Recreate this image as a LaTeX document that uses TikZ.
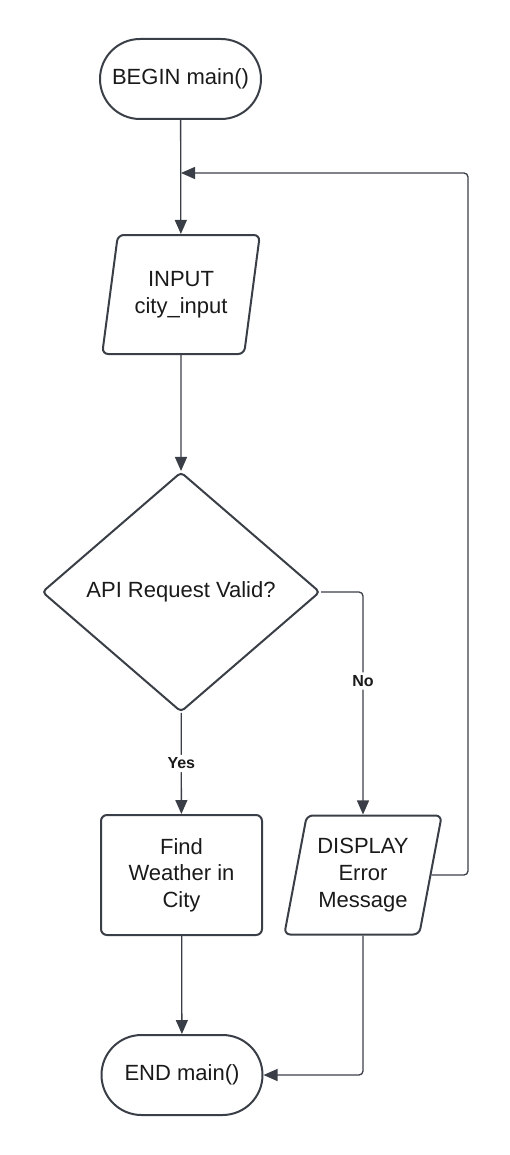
\documentclass[tikz,border=0pt]{standalone}
\usepackage{fontspec}
\setmainfont{Liberation Sans}
\usetikzlibrary{shapes.geometric,arrows.meta}
\definecolor{ln}{HTML}{3A3F47}
\definecolor{tx}{HTML}{1A1A1A}
\tikzset{
  base/.style={draw=ln, line width=1pt, text=tx, align=center, font=\fontsize{11}{13.3}\selectfont, inner sep=0pt},
  term/.style={base, rectangle, rounded corners=20pt, minimum width=80.5pt, minimum height=40pt},
  proc/.style={base, rectangle, rounded corners=3pt, minimum width=80.5pt, minimum height=60pt},
  io/.style={base, trapezium, trapezium left angle=76, trapezium right angle=104, trapezium stretches=true, rounded corners=3pt, minimum width=79pt, minimum height=59.5pt},
  dec/.style={base, diamond, rounded corners=2pt, minimum width=139pt, minimum height=120pt},
  conn/.style={draw=ln, line width=0.65pt, rounded corners=2pt, -{Triangle[length=7pt,width=6pt]}},
  lbl/.style={fill=white, text=tx, font=\bfseries\fontsize{8}{9}\selectfont, inner sep=1.5pt}
}
\begin{document}
\begin{tikzpicture}[x=0.5pt,y=-0.5pt]
\useasboundingbox (0,0) rectangle (509,1155);
\node[term] (begin) at (180.5,79) {BEGIN main()};
\node[io] (input) at (181,294.5) {INPUT\\city\_input};
\node[dec] (dec) at (181,592) {API Request Valid?};
\node[proc] (find) at (181.5,875) {Find\\Weather in\\City};
\node[io] (disp) at (363,875) {DISPLAY\\Error\\Message};
\node[term] (end) at (182,1075) {END main()};
\coordinate (join) at (181,173);
\coordinate (rt) at (468,173);
\draw[conn] (begin) -- (input);
\draw[conn] (input) -- (dec);
\draw[conn] (dec) -- node[lbl, pos=0.5] {Yes} (find);
\draw[conn] (dec.east) -| node[lbl, pos=0.70] {No} (disp.north);
\draw[conn] (disp.east) -| (rt) -- (join);
\draw[conn] (find) -- (end);
\draw[conn] (disp.south) |- (end.east);
\end{tikzpicture}
\end{document}
